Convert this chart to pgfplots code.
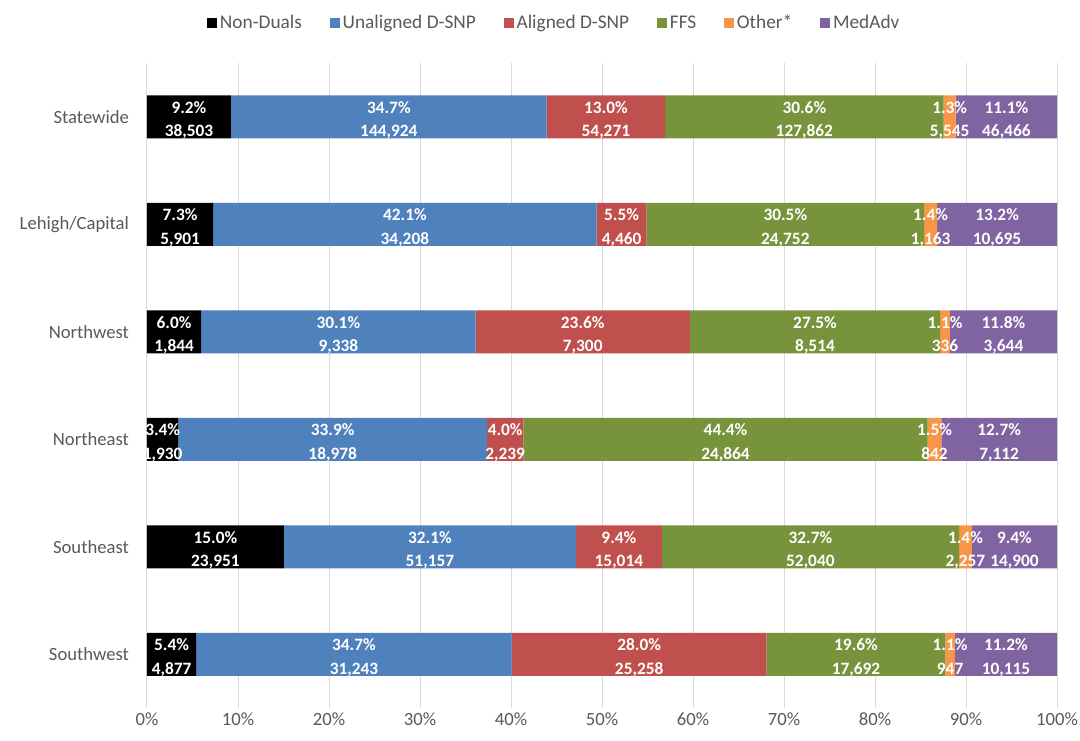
\documentclass[border=0pt]{standalone}
\usepackage{fontspec}
\setmainfont{Carlito}
\usepackage{pgfplots}
\usepackage{pgfplotstable}
\pgfplotsset{compat=1.18}
\definecolor{cNon}{HTML}{000000}
\definecolor{cUna}{HTML}{4F81BD}
\definecolor{cAli}{HTML}{C0504D}
\definecolor{cFFS}{HTML}{77933C}
\definecolor{cOth}{HTML}{F79646}
\definecolor{cMed}{HTML}{8064A2}
\definecolor{tgray}{HTML}{595959}
\definecolor{ggray}{HTML}{D9D9D9}

% shares (%) of each segment, printed percentage, printed count
\pgfplotstableread{
y a b c d e f pa pb pc pd pe pf ca cb cc cd ce cf
0 9.221 34.706 12.997 30.620 1.328 11.128 9.2 34.7 13.0 30.6 1.3 11.1 38,503 144,924 54,271 127,862 5,545 46,466
1 7.269 42.139 5.494 30.491 1.433 13.174 7.3 42.1 5.5 30.5 1.4 13.2 5,901 34,208 4,460 24,752 1,163 10,695
2 5.953 30.146 23.567 27.486 1.085 11.763 6.0 30.1 23.6 27.5 1.1 11.8 1,844 9,338 7,300 8,514 336 3,644
3 3.449 33.911 4.001 44.428 1.505 12.706 3.4 33.9 4.0 44.4 1.5 12.7 1,930 18,978 2,239 24,864 842 7,112
4 15.033 32.110 9.424 32.664 1.417 9.352 15.0 32.1 9.4 32.7 1.4 9.4 23,951 51,157 15,014 52,040 2,257 14,900
5 5.411 34.664 28.023 19.629 1.051 11.222 5.4 34.7 28.0 19.6 1.1 11.2 4,877 31,243 25,258 17,692 947 10,115
}\shares

\pgfplotsset{
  commonaxis/.style={scale only axis, width=682.5pt, height=483.75pt,
    at={(0,0)}, anchor=south west, xmin=0, xmax=100, ymin=-0.5, ymax=5.5, y dir=reverse},
  lblplot/.style={only marks, mark=text, text mark={}, point meta=explicit symbolic,
    nodes near coords style={font=\fontsize{13}{15}\selectfont\bfseries, text=white,
      anchor=base, inner sep=0pt}},
}
\newcommand{\lab}[3]{%
  \addplot[lblplot, nodes near coords={\pgfplotspointmeta\%},
    nodes near coords style={yshift=2.6pt}]
    table[x expr={#1}, y=y, meta=#2] {\shares};
  \addplot[lblplot, nodes near coords={\pgfplotspointmeta},
    nodes near coords style={yshift=-15pt}]
    table[x expr={#1}, y=y, meta=#3] {\shares};}

\begin{document}
\begin{tikzpicture}
\useasboundingbox (-110.25pt,-24pt) rectangle (699.75pt,531pt);
\begin{axis}[commonaxis, xbar stacked, bar width=0.4,
  axis line style={draw=none}, major tick length=0pt,
  xmajorgrids, grid style={ggray, line width=0.75pt},
  xtick={0,10,...,100}, xticklabel={\pgfmathprintnumber{\tick}\%},
  ytick={0,1,2,3,4,5},
  yticklabels={Statewide,Lehigh/Capital,Northwest,Northeast,Southeast,Southwest},
  tick label style={font=\fontsize{14}{16}\selectfont, text=tgray},
  /pgf/number format/assume math mode=true,
  yticklabel style={xshift=-10pt},
  legend columns=6,
  legend style={draw=none, fill=none, at={(0.448,1)}, anchor=center, yshift=30pt,
    font=\fontsize{14.5}{16}\selectfont, text=tgray,
    /tikz/every even column/.append style={column sep=19pt}},
  legend image code/.code={\fill[#1] (0pt,-3.75pt) rectangle (7.5pt,3.75pt);},
]
\addplot[fill=cNon, draw=none] table[x=a, y=y] {\shares};
\addplot[fill=cUna, draw=none] table[x=b, y=y] {\shares};
\addplot[fill=cAli, draw=none] table[x=c, y=y] {\shares};
\addplot[fill=cFFS, draw=none] table[x=d, y=y] {\shares};
\addplot[fill=cOth, draw=none] table[x=e, y=y] {\shares};
\addplot[fill=cMed, draw=none] table[x=f, y=y] {\shares};
\legend{Non-Duals, Unaligned D-SNP, Aligned D-SNP, FFS, Other*, MedAdv}
\end{axis}
\begin{axis}[commonaxis, hide axis]
\lab{\thisrow{a}/2}{pa}{ca}
\lab{\thisrow{a}+\thisrow{b}/2}{pb}{cb}
\lab{\thisrow{a}+\thisrow{b}+\thisrow{c}/2}{pc}{cc}
\lab{\thisrow{a}+\thisrow{b}+\thisrow{c}+\thisrow{d}/2}{pd}{cd}
\lab{\thisrow{a}+\thisrow{b}+\thisrow{c}+\thisrow{d}+\thisrow{e}/2}{pe}{ce}
\lab{\thisrow{a}+\thisrow{b}+\thisrow{c}+\thisrow{d}+\thisrow{e}+\thisrow{f}/2}{pf}{cf}
\end{axis}
\end{tikzpicture}
\end{document}
